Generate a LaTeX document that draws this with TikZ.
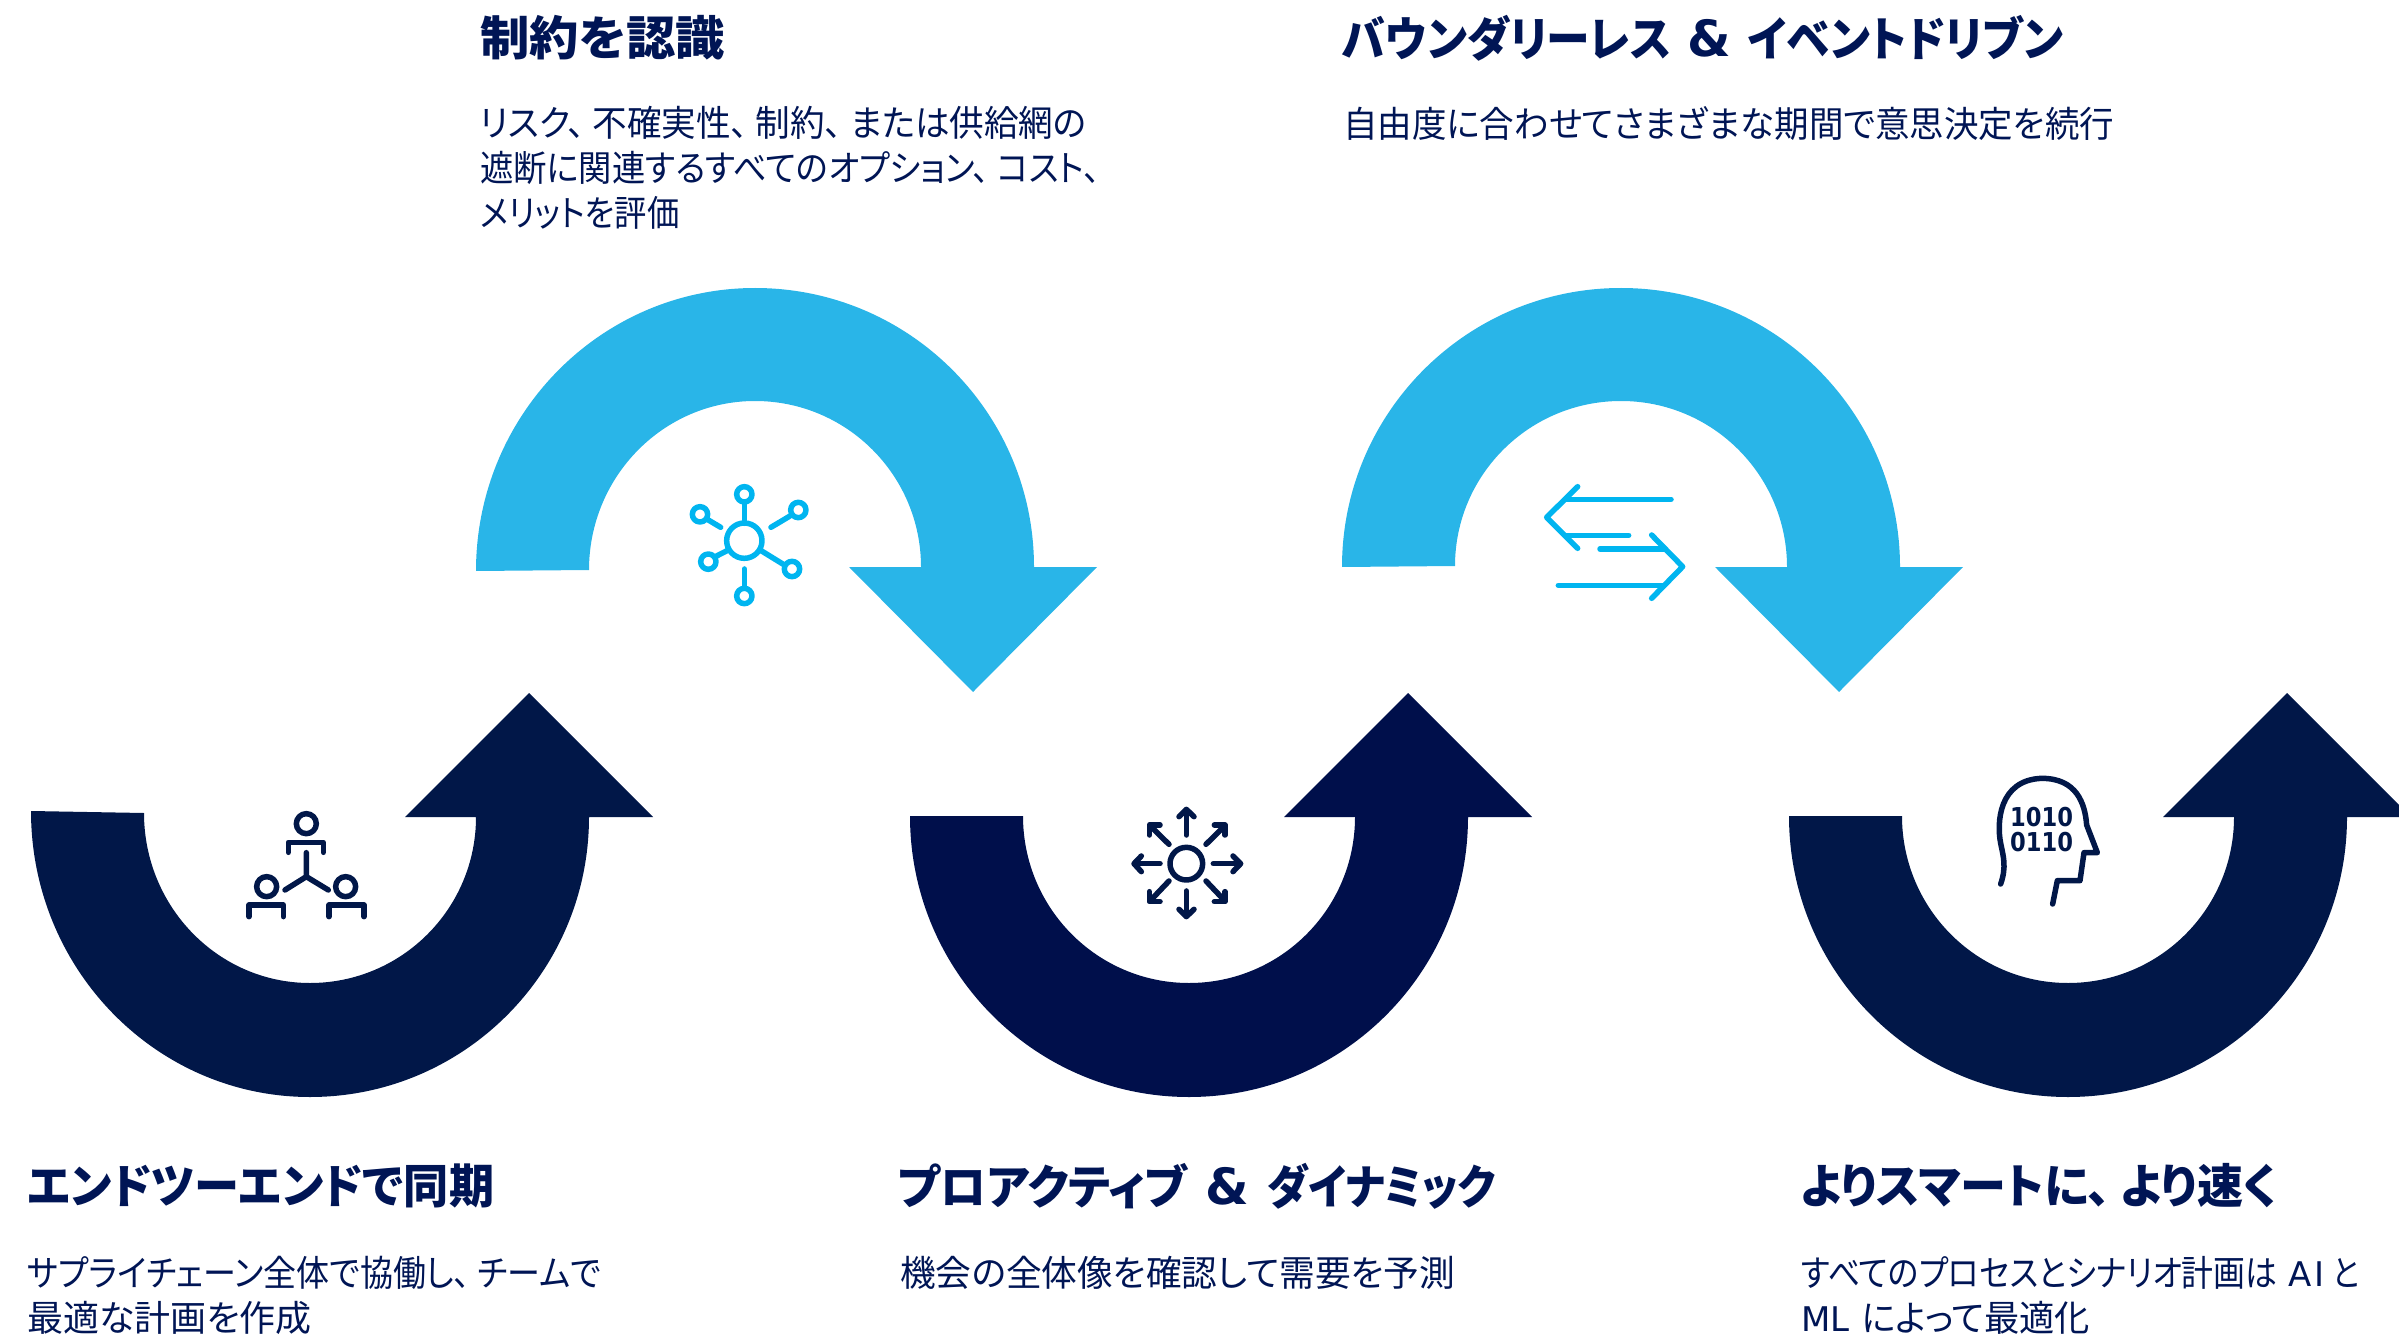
\documentclass[tikz,border=0pt]{standalone}
\usepackage{fontspec}
\setmainfont{Noto Sans CJK JP}[RawFeature={+palt}]
\newfontfamily\latf{DejaVu Sans}
\definecolor{navyA}{HTML}{011748}
\definecolor{navyB}{HTML}{000F4B}
\definecolor{skyA}{HTML}{29B5E8}
\definecolor{iconsky}{HTML}{00B5F0}
\definecolor{txt}{HTML}{001555}
% cx, outer-left y, inner-left y, colour : bowl with upward head
\newcommand{\uarrow}[4]{%
 \fill[#4] ({#1-279},{-#2}) arc[start angle=180,end angle=270,x radius=279,y radius={1097-#2}]
  arc[start angle=270,end angle=360,x radius=279,y radius=280]
  -- ({#1+343},-817) -- ({#1+219},-693) -- ({#1+95},-817) -- ({#1+166},-817)
  arc[start angle=0,end angle=-90,x radius=166,y radius=166]
  arc[start angle=270,end angle=180,x radius=166,y radius={983-#3}] -- cycle;}
% cx, left y, colour, tip x : dome with downward head
\newcommand{\narrow}[4]{%
 \fill[#3] ({#1-279},{-#2}) arc[start angle=180,end angle=90,x radius=279,y radius={#2-288}]
  arc[start angle=90,end angle=0,x radius=279,y radius=279]
  -- ({#4+124},-567) -- (#4,-692) -- ({#4-124},-567) -- ({#1+166},-567)
  arc[start angle=0,end angle=90,x radius=166,y radius=166]
  arc[start angle=90,end angle=180,x radius=166,y radius={#2-1-401}] -- ({#1-166},{-#2+1}) -- cycle;}
\newcommand{\sx}[2]{\scalebox{#1}[1]{#2}}
\newcommand{\tamp}{{\latf\fontsize{50}{50}\selectfont\bfseries\&}}
\newcommand{\lat}[1]{{\latf\fontsize{34}{45}\selectfont #1}}
\tikzset{x=1pt,y=1pt,
 ttl/.style={anchor=west,inner sep=0pt,font=\fontsize{47}{47}\selectfont\bfseries,text=txt},
 body/.style={anchor=north west,inner sep=0pt,align=left,font=\fontsize{36}{45}\selectfont,text=txt},
 bindig/.style={inner sep=0pt,text=navyA,font=\latf\bfseries\fontsize{26}{26}\selectfont},
 icn/.style={line width=5.5pt,line cap=round,line join=round,draw=navyA},
 icb/.style={line width=5.5pt,line cap=round,line join=round,draw=iconsky},
 zoomed/.style={shift={#1},x=0.3333pt,y=-0.3333pt}}
\begin{document}
\begin{tikzpicture}
\useasboundingbox (0,0) rectangle (2399,-1337);
\uarrow{310}{811}{813}{navyA}
\uarrow{1189}{816}{816}{navyB}
\uarrow{2068}{816}{816}{navyA}
\narrow{755}{571}{skyA}{973}
\narrow{1621}{567}{skyA}{1839}
\node[ttl] (t1) at (27,-1186) {\sx{.96}{エンドツーエンドで同期}};
\node[body] (b1) at (27,-1256) {\sx{.917}{サプライチェーン全体で協働し、\hspace{8pt}チームで}\\最適な計画を作成};
\node[ttl] (t2) at (480,-38) {\sx{1.05}{制約を認識}};
\node[body] (b2) at (480,-106) {\sx{.961}{リスク、\hspace{8pt}不確実性、\hspace{8pt}制約、\hspace{8pt}または供給網の}\\\sx{.925}{遮断に関連するすべてのオプション、\hspace{8pt}コスト、}\\\sx{.897}{メリットを評価}};
\node[ttl] (t3) at (898,-1186) {\sx{.975}{プロアクティブ}\hspace{18pt}\tamp\hspace{18pt}\sx{.9}{ダイナミック}};
\node[body] (b3) at (900,-1256) {\sx{.992}{機会の全体像を確認して需要を予測}};
\node[ttl] (t4) at (1342,-38) {\sx{.931}{バウンダリーレス}\hspace{16pt}\tamp\hspace{17pt}\sx{.93}{イベントドリブン}};
\node[body] (b4) at (1343,-106) {\sx{.958}{自由度に合わせてさまざまな期間で意思決定を続行}};
\node[ttl] (t5) at (1800,-1186) {\sx{.98}{よりスマートに、\hspace{10pt}より速く}};
\node[body] (b5) at (1801,-1256) {\sx{.885}{すべてのプロセスとシナリオ計画は}\hspace{11pt}\lat{A\kern3pt I}\hspace{8pt}\sx{.85}{と}\\\lat{ML}\hspace{12pt}\sx{.98}{によって最適化}};
% icon: people
\begin{scope}[zoomed={(230,-780)},icn]
 \draw (229,131) circle[radius=30];
 \draw (175,217) -- (175,187) -- (280,187) -- (280,217);
 \draw (229,218) -- (229,290) -- (165,330);
 \draw (229,290) -- (295,330);
 \draw (110,320) circle[radius=30];
 \draw (57,410) -- (57,375) -- (160,375) -- (160,410);
 \draw (347,320) circle[radius=30];
 \draw (297,410) -- (297,375) -- (402,375) -- (402,410);
\end{scope}
% icon: hub
\begin{scope}[zoomed={(670,-470)},icb]
 \draw (223,212) circle[radius=53];
 \foreach \px/\py in {223/73,385/120,90/133,115/275,366/297,223/378}
  \draw (\px,\py) circle[radius=23];
 \draw (223,100) -- (223,160);
 \draw (303,172) -- (360,138);
 \draw (115,150) -- (152,172);
 \draw (140,258) -- (175,240);
 \draw (275,243) -- (340,283);
 \draw (223,297) -- (223,350);
\end{scope}
% icon: radiating arrows
\begin{scope}[zoomed={(1110,-790)},icn]
 \draw (229,221) circle[radius=49];
 \draw (229,135) -- (229,60);
 \draw (207,80) -- (229,58) -- (252,80);
 \draw (229,303) -- (229,378);
 \draw (207,358) -- (229,380) -- (252,358);
 \draw (150,221) -- (75,221);
 \draw (94,198) -- (72,221) -- (94,245);
 \draw (310,221) -- (388,221);
 \draw (369,198) -- (392,221) -- (369,245);
 \draw (177,163) -- (120,107);
 \draw (118,135) -- (118,105) -- (150,105);
 \draw (288,163) -- (345,107);
 \draw (313,105) -- (345,105) -- (345,135);
 \draw (177,273) -- (120,333);
 \draw (118,305) -- (118,335) -- (150,335);
 \draw (288,273) -- (345,333);
 \draw (345,305) -- (345,335) -- (313,335);
\end{scope}
% icon: exchange arrows
\begin{scope}[zoomed={(1530,-470)},icb]
 \draw (143,50) -- (50,142) -- (143,235);
 \draw (105,88) -- (423,88);
 \draw (105,196) -- (296,196);
 \draw (365,195) -- (458,290) -- (365,385);
 \draw (210,237) -- (400,237);
 \draw (85,346) -- (400,346);
\end{scope}
% icon: head
\begin{scope}[zoomed={(1980,-760)},icn]
 \draw (62,372) .. controls (80,320) and (70,290) .. (62,250) .. controls (50,190) and (55,60) .. (185,55) .. controls (290,55) and (315,130) .. (320,195) -- (352,278) -- (312,278) -- (300,362) -- (232,362) -- (218,432);
 \node[bindig] (bin1) at (185,170) {\sx{.87}{1010}};
 \node[bindig] (bin2) at (185,245) {\sx{.87}{0110}};
\end{scope}
\end{tikzpicture}
\end{document}
